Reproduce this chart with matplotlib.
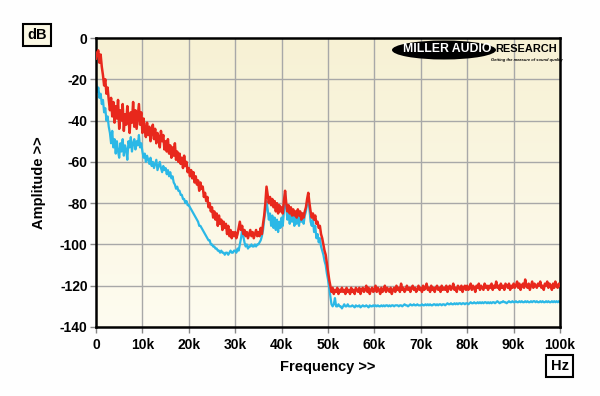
import numpy as np
import matplotlib
matplotlib.use("Agg")
import matplotlib.pyplot as plt
from matplotlib.patches import Ellipse
from matplotlib.colors import LinearSegmentedColormap

plt.rcParams['font.family'] = ['Liberation Sans', 'DejaVu Sans']

# Frequency bins (Hz), 250 Hz spacing, 0 .. 100 kHz
freq_step = 250
red_db = [
    -10, -7, -6, -12, -8, -14, -18, -23, -20, -27, -24, -30, -35, -29, -38, -31, -41, -33, -39, -30,
    -44, -35, -40, -32, -45, -37, -42, -33, -39, -46, -36, -41, -31, -43, -35, -44, -38, -32, -42, -36,
    -46, -39, -44, -48, -41, -47, -43, -50, -45, -42, -49, -44, -51, -46, -48, -53, -45, -50, -47, -54,
    -50, -55, -49, -56, -52, -58, -53, -57, -51, -59, -55, -60, -56, -61, -58, -63, -57, -62, -60, -65,
    -63, -67, -64, -68, -65, -70, -67, -71, -69, -74, -70, -73, -72, -77, -75, -79, -77, -82, -80, -84,
    -82, -87, -84, -88, -85, -91, -86, -90, -88, -93, -89, -92, -90, -95, -91, -96, -93, -97, -94, -96,
    -94, -97, -95, -92, -89, -93, -91, -95, -93, -96, -94, -97, -95, -93, -96, -94, -97, -95, -93, -96,
    -94, -96, -92, -95, -90, -86, -80, -72, -76, -80, -77, -81, -78, -82, -79, -84, -80, -85, -81, -84,
    -82, -85, -79, -74, -80, -84, -81, -85, -82, -86, -83, -86, -84, -87, -83, -86, -84, -88, -85, -87,
    -84, -82, -78, -75, -80, -84, -87, -85, -88, -86, -90, -89, -92, -91, -95, -97, -100, -103, -105, -109,
    -113, -117, -120, -123, -121, -124, -122, -123, -121, -124, -122, -123, -121, -123, -122, -124, -121, -123, -122, -124,
    -121, -123, -122, -124, -121, -122, -123, -121, -124, -122, -121, -123, -122, -120, -123, -121, -124, -122, -121, -123,
    -122, -120, -123, -121, -122, -124, -121, -123, -122, -120, -123, -121, -122, -123, -121, -124, -122, -121, -123, -120,
    -122, -121, -123, -119, -122, -121, -123, -122, -120, -122, -121, -123, -121, -120, -122, -121, -123, -122, -120, -122,
    -121, -123, -120, -122, -121, -119, -122, -121, -123, -120, -122, -121, -123, -121, -120, -122, -121, -123, -120, -122,
    -121, -122, -120, -123, -121, -120, -122, -121, -119, -122, -121, -123, -120, -121, -122, -120, -123, -121, -120, -122,
    -120, -122, -121, -119, -122, -120, -121, -123, -120, -121, -119, -122, -120, -121, -122, -119, -121, -120, -122, -120,
    -121, -119, -122, -120, -121, -118, -121, -120, -122, -119, -121, -120, -122, -119, -120, -121, -119, -122, -120, -121,
    -119, -121, -120, -118, -121, -119, -122, -120, -119, -121, -117, -120, -121, -119, -122, -120, -118, -121, -119, -120,
    -121, -119, -120, -118, -121, -120, -122, -119, -120, -118, -121, -119, -120, -122, -119, -121, -118, -120, -121, -119,
    -120,
]
cyan_db = [
    -21, -26, -24, -29, -27, -32, -30, -36, -34, -40, -38, -43, -46, -51, -45, -53, -49, -56, -50, -55,
    -58, -51, -55, -49, -57, -52, -54, -59, -50, -53, -48, -55, -51, -49, -54, -50, -52, -47, -53, -51,
    -55, -58, -56, -60, -57, -59, -61, -58, -62, -60, -63, -61, -59, -64, -62, -60, -63, -65, -62, -64,
    -63, -66, -64, -67, -65, -68, -67, -70, -71, -73, -72, -74, -74, -76, -76, -78, -78, -80, -79, -81,
    -81, -82, -83, -84, -85, -86, -87, -88, -89, -91, -91, -92, -93, -94, -95, -96, -97, -98, -98, -100,
    -100, -101, -101, -102, -102, -103, -103, -104, -103, -104, -104, -105, -104, -104, -105, -104, -103, -104, -104, -103,
    -103, -104, -102, -103, -100, -97, -93, -96, -99, -101, -100, -102, -101, -101, -100, -101, -101, -100, -101, -100,
    -100, -99, -98, -96, -93, -88, -84, -79, -83, -88, -85, -91, -86, -92, -87, -93, -88, -94, -89, -92,
    -87, -91, -84, -75, -82, -88, -84, -90, -85, -89, -84, -91, -86, -90, -85, -91, -86, -89, -85, -90,
    -86, -84, -80, -77, -83, -89, -91, -88, -94, -91, -97, -95, -99, -97, -101, -103, -105, -108, -110, -114,
    -117, -121, -125, -129, -130, -129, -126, -130, -130, -129, -130, -130, -131, -130, -129, -130, -130, -129, -130, -130,
    -130, -129.5, -130, -130.5, -129.5, -130, -130, -129.5, -130.5, -130, -129.5, -130, -130, -129.5, -130, -130.5, -129.5, -130, -130, -129.5,
    -130, -129.5, -130, -129.5, -130, -130, -129.5, -130, -129.5, -130, -129.5, -129.5, -130, -129.5, -130, -129.5, -129.5, -130, -129.5, -129.5,
    -129.5, -130, -129.5, -129.5, -130, -129.5, -129, -129.5, -129.5, -130, -129.5, -129, -129.5, -129.5, -129, -129.5, -129.5, -129, -129.5, -129.5,
    -129.5, -129, -129.5, -129.5, -129, -129.5, -129, -129.5, -129, -129.5, -129.5, -129, -129, -129.5, -129, -129.5, -129, -129, -129.5, -129,
    -129, -129.5, -129, -128.5, -129, -129, -128.5, -129, -129, -128.5, -129, -128.5, -129, -128.5, -128.5, -129, -128.5, -128.5, -129, -128.5,
    -128.5, -129, -128.5, -128, -128.5, -128.5, -128, -128.5, -128.5, -128, -128.5, -128, -128.5, -128, -128.5, -128, -128, -128.5, -128, -128.5,
    -128, -128.5, -128, -128, -128.5, -128, -127.5, -128, -128.5, -128, -128, -127.5, -128, -128, -128.5, -128, -127.5, -128, -128, -127.5,
    -128, -128, -127.5, -128, -128, -127.5, -128, -127.5, -128, -128, -127.5, -128, -127.5, -128, -128, -127.5, -128, -127.5, -127.5, -128,
    -127.5, -128, -128, -127.5, -128, -127.5, -128, -128, -127.5, -128, -127.5, -128, -128, -127.5, -128, -127.5, -128, -127.5, -128, -127.5,
    -128,
]
red_freq = np.arange(len(red_db)) * freq_step
cyan_freq = np.arange(len(cyan_db)) * freq_step

x_ticks = [0, 10000, 20000, 30000, 40000, 50000, 60000, 70000, 80000, 90000, 100000]
x_labels = ['0', '10k', '20k', '30k', '40k', '50k', '60k', '70k', '80k', '90k', '100k']
y_ticks = [0, -20, -40, -60, -80, -100, -120, -140]

fig = plt.figure(figsize=(6, 3.96), dpi=100, facecolor='#fefefe')
ax = fig.add_axes([96/600, 1-327/396, 464/600, 289/396])

cmap = LinearSegmentedColormap.from_list('bg', ['#f7f1d4', '#fefcf0'])
grad = np.linspace(0, 1, 256).reshape(-1, 1)
ax.imshow(grad, extent=[0, 100000, -140, 0], aspect='auto', cmap=cmap, zorder=0, origin='upper')

for xt in x_ticks[1:-1]:
    ax.axvline(xt, color='#a8a8a8', lw=1.0, zorder=1)
for yt in y_ticks[1:-1]:
    ax.axhline(yt, color='#a8a8a8', lw=1.0, zorder=1)

ax.plot(cyan_freq, cyan_db, color='#2bb8e6', lw=1.6, zorder=2)
ax.plot(red_freq, red_db, color='#e8281c', lw=1.8, zorder=3)

ax.set_xlim(0, 100000)
ax.set_ylim(-140, 0)
ax.set_xticks(x_ticks)
ax.set_xticklabels(x_labels)
ax.set_yticks(y_ticks)
ax.set_yticklabels([str(v) for v in y_ticks])
ax.tick_params(axis='both', direction='out', length=4, width=1, color='#888888', labelsize=10)
ax.tick_params(axis='x', pad=4)
ax.tick_params(axis='y', pad=2)
for lab in ax.get_xticklabels() + ax.get_yticklabels():
    lab.set_fontweight('bold')
for sp in ax.spines.values():
    sp.set_linewidth(1.8)
    sp.set_color('black')

ax.set_xlabel('Frequency >>', fontsize=10.5, fontweight='bold', labelpad=6)
ax.set_ylabel('Amplitude >>', fontsize=10.5, fontweight='bold', labelpad=10)

fig.text(37/600, 1-35/396, 'dB', ha='center', va='center', fontsize=10.5, fontweight='bold',
         bbox=dict(boxstyle='square,pad=0.3', fc='#fbf8e4', ec='black', lw=1.5))
fig.text(559.5/600, 1-366/396, 'Hz', ha='center', va='center', fontsize=10.5, fontweight='bold',
         bbox=dict(boxstyle='square,pad=0.3', fc='#fefefe', ec='black', lw=1.5))

# logo
ell = Ellipse((444/600, 1-50/396), 104/600, 19/396, transform=fig.transFigure,
              facecolor='black', edgecolor='none', zorder=5)
fig.add_artist(ell)
fig.text(447/600, 1-49/396, 'MILLER AUDIO', ha='center', va='center', color='white',
         fontsize=8.8, fontweight='bold', zorder=6)
fig.text(495/600, 1-49/396, 'RESEARCH', ha='left', va='center', color='black',
         fontsize=7.9, fontweight='bold', zorder=6)
fig.text(527/600, 1-59.5/396, 'Getting the measure of sound quality', ha='center', va='center',
         color='black', fontsize=2.9, fontweight='bold', style='italic', zorder=6)

fig.savefig('out.png', dpi=100, facecolor=fig.get_facecolor())
